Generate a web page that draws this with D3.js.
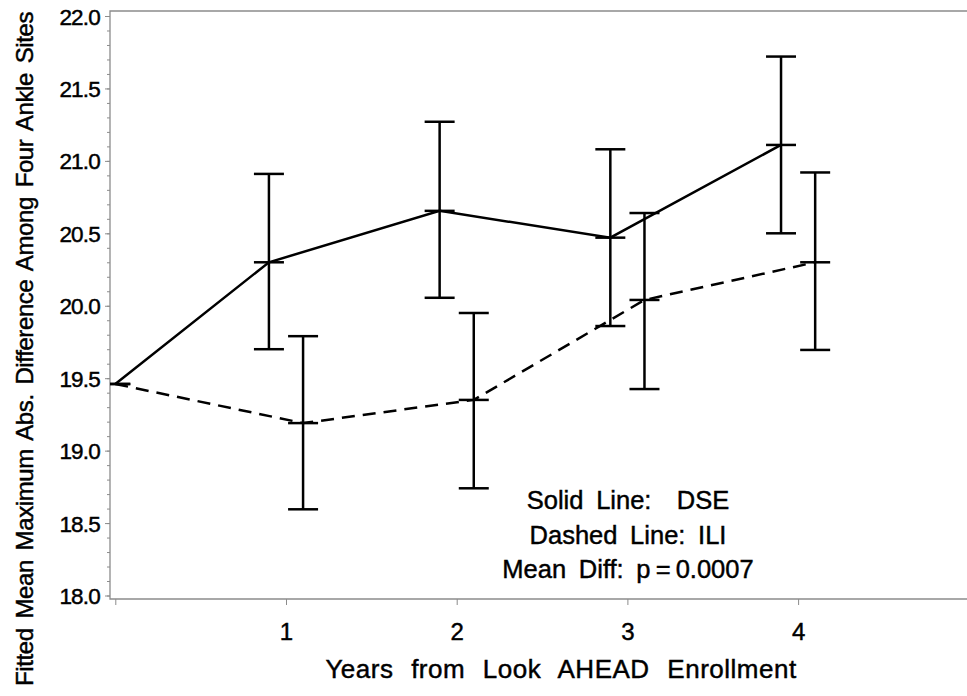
<!DOCTYPE html>
<html>
<head>
<meta charset="utf-8">
<script src="https://cdn.jsdelivr.net/npm/d3@7"></script>
<style>
  body { margin: 0; background: #fff; }
  svg { display: block; font-family: "Liberation Sans", Arial, Helvetica, sans-serif; }
  svg text { fill: #000; stroke: #000; stroke-width: 0.45px; }
</style>
</head>
<body>
<div id="chart"></div>
<script>
(function() {
  // data
  const years = [0, 1, 2, 3, 4];
  const dseMean  = [19.46, 20.30, 20.655, 20.47, 21.11];
  const dseLower = [null, 19.70, 20.055, 19.86, 20.50];
  const dseUpper = [null, 20.91, 21.27, 21.08, 21.72];
  const iliMean  = [19.46, 19.19, 19.35, 20.04, 20.30];
  const iliLower = [null, 18.595, 18.74, 19.425, 19.695];
  const iliUpper = [null, 19.79, 19.95, 20.64, 20.92];
  const yTicks = [18.0, 18.5, 19.0, 19.5, 20.0, 20.5, 21.0, 21.5, 22.0];
  const xTickLabels = [1, 2, 3, 4];
  const notes = ["Solid Line:  DSE", "Dashed Line: ILI", "Mean Diff: p\u2009=\u20090.0007"];

  const width = 967, height = 696;
  const frame = { left: 110, top: 11, bottom: 599, right: 975 };

  const svg = d3.select('#chart')
    .append('svg')
      .attr('width', width)
      .attr('height', height);

  const x = d3.scaleLinear().domain([0, 5]).range([115.3, 968.8]);
  const y = d3.scaleLinear().domain([18, 22]).range([595.5, 16]);
  const shift = 0.1;   // horizontal offset between groups
  const cap = 15;
  const lw = 2.5;

  svg.append("defs").append("clipPath").attr("id", "plot-clip")
    .append("rect")
      .attr("x", frame.left).attr("y", frame.top)
      .attr("width", frame.right - frame.left)
      .attr("height", frame.bottom - frame.top);

  // frame
  svg.append("path")
    .attr("d", `M${frame.right},${frame.top}H${frame.left}V${frame.bottom}H${frame.right}`)
    .attr("fill", "none")
    .attr("stroke", "#8c8c8c")
    .attr("stroke-width", 1.3);

  // y axis
  const yAxis = svg.append("g")
    .attr("transform", `translate(${frame.left}, 0)`)
    .call(d3.axisLeft(y).tickValues(d3.range(180, 221).map(d => d / 10)).tickSize(3).tickFormat(""));
  yAxis.select(".domain").remove();
  yAxis.selectAll(".tick line").attr("stroke", "#8c8c8c");

  const yMajor = svg.append("g")
    .attr("transform", `translate(${frame.left}, 0)`)
    .call(d3.axisLeft(y).tickValues(yTicks).tickSize(5).tickPadding(5).tickFormat(d3.format(".1f")));
  yMajor.select(".domain").remove();
  yMajor.selectAll(".tick line").attr("stroke", "#8c8c8c");
  yMajor.selectAll(".tick text")
    .attr("font-size", 22.5)
    .attr("font-family", "Liberation Sans, Arial, sans-serif")
    .attr("letter-spacing", -0.8)
    .attr("dy", "0.36em");

  // x axis
  const xAxis = svg.append("g")
    .attr("transform", `translate(0, ${frame.bottom})`)
    .call(d3.axisBottom(x).tickValues(years).tickSize(6).tickPadding(18)
      .tickFormat(d => xTickLabels.includes(d) ? d : ""));
  xAxis.select(".domain").remove();
  xAxis.selectAll(".tick line").attr("stroke", "#8c8c8c");
  xAxis.selectAll(".tick text")
    .attr("font-size", 24)
    .attr("font-family", "Liberation Sans, Arial, sans-serif");

  // axis titles
  svg.append("text")
    .attr("x", 561)
    .attr("y", 678)
    .attr("text-anchor", "middle")
    .attr("font-size", 26)
    .attr("letter-spacing", 0.5)
    .attr("word-spacing", 10)
    .text("Years from Look AHEAD Enrollment");

  svg.append("text")
    .attr("transform", `translate(33, 349) rotate(-90)`)
    .attr("text-anchor", "middle")
    .attr("font-size", 24)
    .attr("letter-spacing", -0.4)
    .attr("word-spacing", 3.5)
    .text("Fitted Mean Maximum Abs. Difference Among Four Ankle Sites");

  // series
  const plot = svg.append("g").attr("clip-path", "url(#plot-clip)");

  const series = [
    { name: "DSE", mean: dseMean, lower: dseLower, upper: dseUpper, dx: -shift, dash: null },
    { name: "ILI", mean: iliMean, lower: iliLower, upper: iliUpper, dx: shift, dash: "13,8" }
  ];

  const xPos = (s, i) => x(years[i] + (years[i] === 0 ? 0 : s.dx));

  const line = d3.line()
    .x(d => d.x)
    .y(d => y(d.v));

  series.forEach(s => {
    const pts = s.mean.map((v, i) => ({ x: xPos(s, i), v: v }));

    plot.append("path")
      .datum(pts)
      .attr("d", line)
      .attr("fill", "none")
      .attr("stroke", "#000")
      .attr("stroke-width", lw)
      .attr("stroke-dasharray", s.dash);

    const bars = plot.selectAll(null)
      .data(s.mean.map((v, i) => ({ x: xPos(s, i), m: v, lo: s.lower[i], hi: s.upper[i] })))
      .enter().append("g");

    // mean marker
    bars.append("line")
      .attr("x1", d => d.x - cap).attr("x2", d => d.x + cap)
      .attr("y1", d => y(d.m)).attr("y2", d => y(d.m))
      .attr("stroke", "#000").attr("stroke-width", lw);

    const eb = bars.filter(d => d.lo !== null);
    eb.append("line")
      .attr("x1", d => d.x).attr("x2", d => d.x)
      .attr("y1", d => y(d.lo)).attr("y2", d => y(d.hi))
      .attr("stroke", "#000").attr("stroke-width", lw);
    eb.append("line")
      .attr("x1", d => d.x - cap).attr("x2", d => d.x + cap)
      .attr("y1", d => y(d.hi)).attr("y2", d => y(d.hi))
      .attr("stroke", "#000").attr("stroke-width", lw);
    eb.append("line")
      .attr("x1", d => d.x - cap).attr("x2", d => d.x + cap)
      .attr("y1", d => y(d.lo)).attr("y2", d => y(d.lo))
      .attr("stroke", "#000").attr("stroke-width", lw);
  });

  // annotation
  svg.append("g")
    .selectAll("text")
    .data(notes)
    .enter().append("text")
      .attr("x", 628)
      .attr("y", (d, i) => 509 + i * 34.5)
      .attr("text-anchor", "middle")
      .attr("font-size", 25.5)
      .attr("word-spacing", 5.6)
      .style("white-space", "pre")
      .text(d => d);
})();
</script>
</body>
</html>
